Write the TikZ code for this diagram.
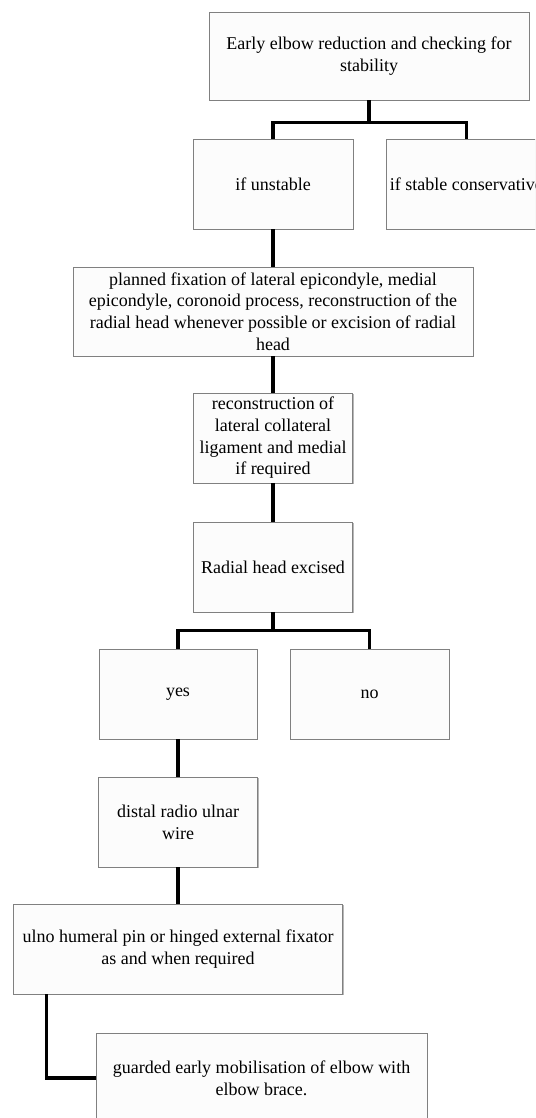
\documentclass[tikz,border=0pt]{standalone}
\usepackage{fontspec}
\setmainfont{Liberation Serif}
\usetikzlibrary{shadows}

\begin{document}
\begin{tikzpicture}[x=1pt,y=-1pt,
    box/.style={draw=black!50, fill=black!1, line width=0.9pt, align=center,
        inner sep=1pt, minimum height=90pt, font=\fontsize{18}{21.7}\selectfont,
        drop shadow={shadow xshift=1.3pt, shadow yshift=-1.3pt, fill=black!40, opacity=0.7}},
    link/.style={line width=3.2pt}]
\useasboundingbox (0,0) rectangle (535,1118);
\fill[white] (0,0) rectangle (535,1118);
\clip (0,0) rectangle (535,1118);

% Boxes
\node[box, minimum width=320pt, minimum height=88pt] (top) at (369,56) {Early elbow reduction and checking for\\stability};
\node[box, minimum width=160pt] (unstable) at (273,184) {if unstable};
\node[box, minimum width=160pt, anchor=west] (stable) at (386,184) {if stable conservative};
\node[box, minimum width=400pt, minimum height=89pt] (planned) at (273,311.5) {planned fixation of lateral\ epicondyle, medial\\epicondyle, coronoid process, reconstruction of the\\radial head whenever possible or excision of radial\\head};
\node[box, minimum width=159pt] (recon) at (273,438) {reconstruction of\\lateral collateral\\ligament and medial\\if required};
\node[box, minimum width=159pt] (radial) at (273,567) {Radial head excised};
\node[box, minimum width=158pt] (yes) at (178,694) {yes};
\node[box, minimum width=159pt] (no) at (369.5,694) {no};
\node[box, minimum width=159pt] (distal) at (178,822) {distal radio ulnar\\wire};
\node[box, minimum width=329pt] (ulno) at (178,949) {ulno humeral pin or hinged external fixator\\as and when required};
\node[box, minimum width=331pt] (guarded) at (261.5,1078) {guarded early mobilisation\ of elbow with\\elbow brace.};

% Connectors
\draw[link] (top.south) -- ++(0,22) -| (unstable.north);
\draw[link] (top.south) ++(0,22) -| (stable.north);
\draw[link] (unstable.south) -- (planned.north);
\draw[link] (planned.south) -- (recon.north);
\draw[link] (recon.south) -- (radial.north);
\draw[link] (radial.south) -- ++(0,18) -| (yes.north);
\draw[link] (radial.south) ++(0,18) -| (no.north);
\draw[link] (yes.south) -- (distal.north);
\draw[link] (distal.south) -- (ulno.north);
\draw[link] (ulno.south west) ++(33.5,0) |- (guarded.west);
\end{tikzpicture}
\end{document}
